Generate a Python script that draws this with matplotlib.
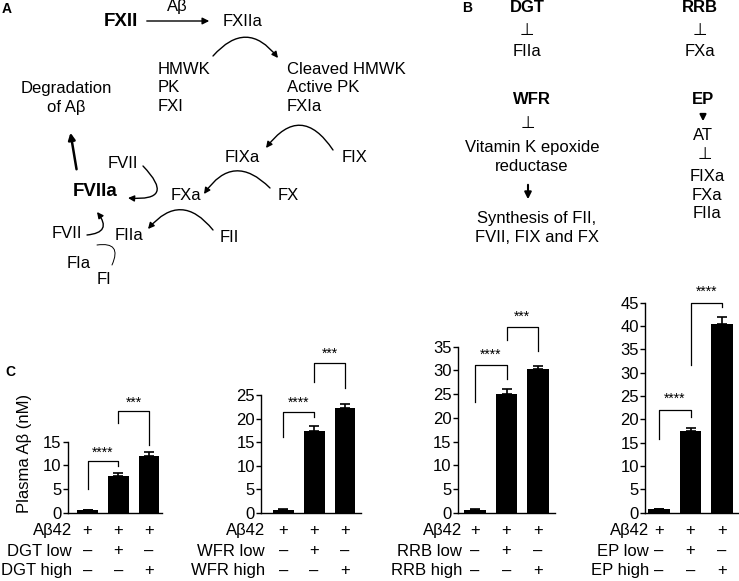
import matplotlib
matplotlib.use("Agg")
import matplotlib.pyplot as plt
import matplotlib.transforms as mtransforms
from matplotlib.patches import FancyArrowPatch

plt.rcParams['font.family'] = ['Liberation Sans', 'DejaVu Sans']

W, H = 739, 581

# panel C data (plasma Abeta, nM)
groups = ["DGT", "WFR", "RRB", "EP"]
means = {"DGT": [0.5, 7.8, 12.0],
         "WFR": [0.6, 17.4, 22.3],
         "RRB": [0.6, 25.0, 30.3],
         "EP": [0.8, 17.5, 40.4]}
errs = {"DGT": [0.1, 0.5, 0.8],
        "WFR": [0.1, 1.0, 0.7],
        "RRB": [0.1, 1.0, 0.7],
        "EP": [0.1, 0.7, 1.5]}
ymax = {"DGT": 15, "WFR": 25, "RRB": 35, "EP": 45}
# brackets: (bar a, bar b, left leg y, top y, right leg y, label)
brackets = {"DGT": [(0, 1, 5.0, 10.9, 9.9, "****"), (1, 2, 19.0, 21.5, 14.3, "***")],
            "WFR": [(0, 1, 16.0, 21.3, 20.3, "****"), (1, 2, 27.8, 31.7, 26.4, "***")],
            "RRB": [(0, 1, 23.4, 31.2, 28.1, "****"), (1, 2, 36.4, 39.2, 34.0, "***")],
            "EP": [(0, 1, 15.9, 22.0, 20.6, "****"), (1, 2, 31.6, 45.0, 44.0, "****")]}
signs = [["+", "+", "+"], ["\u2013", "+", "\u2013"], ["\u2013", "\u2013", "+"]]

fig = plt.figure(figsize=(W / 100, H / 100), dpi=100)
ov = fig.add_axes([0, 0, 1, 1])
ov.set_xlim(0, W)
ov.set_ylim(H, 0)
ov.axis('off')

fs = 12
fsb = 13.5


def t(x, y, s, **kw):
    kw.setdefault('fontsize', fs)
    kw.setdefault('va', 'center')
    ov.text(x, y, s, **kw)


def arc(p0, p1, rad, head=True, lw=1.0):
    style = '-|>' if head else '-'
    a = FancyArrowPatch(p0, p1, connectionstyle="arc3,rad=%s" % rad,
                        arrowstyle=style, mutation_scale=9, lw=lw, color='black',
                        shrinkA=0, shrinkB=0)
    ov.add_patch(a)


perp = dict(ha='center', family=['DejaVu Sans'], fontsize=12)

# ---- panel A
t(2, 9, "A", fontsize=10, fontweight='bold')
t(121, 22, "FXII", ha='center', fontsize=fsb, fontweight='bold')
ov.annotate("", xy=(212, 21), xytext=(144, 21),
            arrowprops=dict(arrowstyle='-|>', lw=1, color='black', mutation_scale=10))
t(177, 7, "A\u03b2", ha='center')
t(223, 21, "FXIIa")
arc((213, 56), (278, 58), -0.6)
t(158, 88, "HMWK\nPK\nFXI", linespacing=1.3)
t(287, 88, "Cleaved HMWK\nActive PK\nFXIa", linespacing=1.3)
t(66, 98, "Degradation\nof A\u03b2", ha='center', linespacing=1.3)
ov.annotate("", xy=(70, 130), xytext=(77, 172),
            arrowprops=dict(arrowstyle='-|>', lw=1.8, color='black', mutation_scale=10))
t(342, 157, "FIX")
arc((333, 150), (266, 148), 0.7)
t(242, 157, "FIXa", ha='center')
t(278, 195, "FX")
arc((270, 188), (204, 194), 0.6)
t(171, 195, "FXa")
t(73, 192, "FVIIa", fontsize=fsb, fontweight='bold')
t(108, 163, "FVII")
arc((143, 166), (128, 198), -1.3)
t(220, 238, "FII")
arc((213, 230), (148, 229), 0.6)
t(115, 235, "FIIa")
t(52, 234, "FVII")
arc((87, 235), (97, 212), 0.9)
t(67, 263, "FIa")
t(97, 279, "FI")
arc((112, 265), (97, 245), 0.9, head=False, lw=0.7)

# ---- panel B
t(462, 8, "B", fontsize=10, fontweight='bold')
t(527, 7, "DGT", ha='center', fontweight='bold')
t(527, 30, "\u22a5", **perp)
t(527, 52, "FIIa", ha='center')
t(700, 7, "RRB", ha='center', fontweight='bold')
t(700, 30, "\u22a5", **perp)
t(700, 52, "FXa", ha='center')
t(532, 100, "WFR", ha='center', fontweight='bold')
t(528, 123, "\u22a5", **perp)
t(532, 157, "Vitamin K epoxide\nreductase", ha='center', linespacing=1.3)
ov.annotate("", xy=(528, 202), xytext=(528, 182),
            arrowprops=dict(arrowstyle='-|>', lw=1.5, color='black', mutation_scale=10))
t(537, 228, "Synthesis of FII,\nFVII, FIX and FX", ha='center', linespacing=1.3)
t(703, 100, "EP", ha='center', fontweight='bold')
ov.annotate("", xy=(703, 124), xytext=(703, 112),
            arrowprops=dict(arrowstyle='-|>', lw=1.5, color='black', mutation_scale=9))
t(703, 135, "AT", ha='center')
t(705, 154, "\u22a5", **perp)
t(707, 195, "FIXa\nFXa\nFIIa", ha='center', linespacing=1.3)

# ---- panel C
t(5, 372, "C", fontsize=10, fontweight='bold')
t(25, 453, "Plasma A\u03b2 (nM)", ha='center', rotation=90)

# pixel layout of the four bar panels: left, right, y of ymax, first bar centre, spacing
layout = {"DGT": (68, 162, 441.7, 87.5, 30.75),
          "WFR": (261, 361, 395.0, 283.3, 30.85),
          "RRB": (458, 555, 346.7, 475.0, 31.5),
          "EP": (645, 739, 302.7, 659.0, 31.5)}
base = 512.7
rows_y = [531, 551, 571]

for g in groups:
    left, right, ytop, c0, sp = layout[g]
    ax = fig.add_axes([left / W, (H - base) / H, (right - left) / W, (base - ytop) / H])
    x = [0, 1, 2]
    ax.bar(x, means[g], width=0.68, color='black',
           yerr=[[0, 0, 0], errs[g]], capsize=3.5,
           error_kw=dict(ecolor='black', elinewidth=1.2, capthick=1.2))
    ax.set_xlim((left - c0) / sp, (right - c0) / sp)
    ax.set_ylim(0, ymax[g])
    ax.set_yticks(range(0, ymax[g] + 1, 5))
    ax.set_xticks([])
    ax.patch.set_alpha(0)
    for s in ['top', 'right']:
        ax.spines[s].set_visible(False)
    ax.spines['left'].set_linewidth(1)
    ax.spines['bottom'].set_linewidth(1)
    ax.tick_params(axis='y', direction='out', length=3.5, width=1, labelsize=fs, pad=1)
    for a, b, yl, ytp, yr, lab in brackets[g]:
        ax.plot([a, a, b, b], [yl, ytp, ytp, yr], color='black', lw=0.9, clip_on=False)
        ax.text((a + b) / 2, ytp + ymax[g] * 0.02, lab, ha='center', va='bottom',
                fontsize=10, clip_on=False)
    tr = mtransforms.blended_transform_factory(ax.transData, ov.transData)
    row_names = ["A\u03b242", g + " low", g + " high"]
    for r, name in enumerate(row_names):
        ov.text(left + 4, rows_y[r], name, ha='right', va='center', fontsize=fs)
        for i in x:
            ov.text(i, rows_y[r], signs[r][i], ha='center', va='center',
                    fontsize=fs, transform=tr)

fig.savefig("out.png", dpi=100)
